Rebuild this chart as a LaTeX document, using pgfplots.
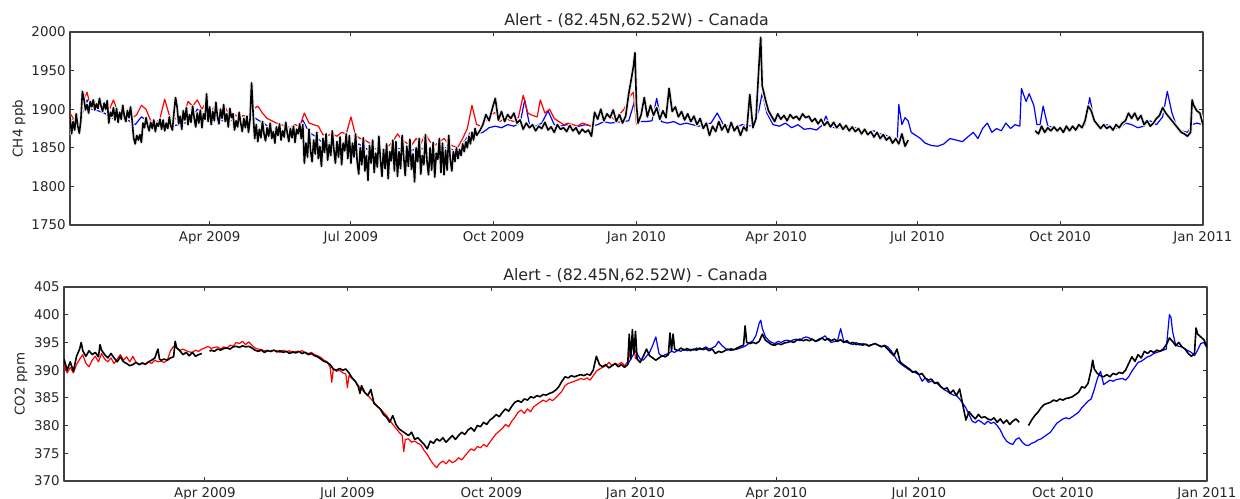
\documentclass[border=0pt]{standalone}
\usepackage{fontspec}
\setmainfont{DejaVu Sans}
\usepackage{pgfplots}
\usepackage{pgfplotstable}
\pgfplotsset{compat=1.18}
\pgfplotsset{
  panel/.style={
    scale only axis,
    anchor=south west,
    xmin=0, xmax=730,
    xtick={90,181,273,365,455,546,638,730},
    xticklabels={Apr 2009,Jul 2009,Oct 2009,Jan 2010,Apr 2010,Jul 2010,Oct 2010,Jan 2011},
    tick align=inside,
    major tick length=2pt,
    tick style={line width=0.5pt, black!80},
    axis line style={line width=0.6pt, black!75},
    ticklabel style={font=\fontsize{6.7}{8}\selectfont, text=black!85},
    xticklabel style={inner sep=0pt, yshift=-3pt},
    yticklabel style={inner sep=0pt, xshift=-2pt, /pgf/number format/fixed, /pgf/number format/1000 sep={}},
    /pgf/number format/assume math mode=true,
    every axis title shift=0pt,
    title style={font=\fontsize{7.9}{9}\selectfont, at={(0.5,1)}, anchor=base, inner sep=0pt, yshift=3pt, text=black!85},
    unbounded coords=jump,
    no markers,
    line join=round,
  }
}
\pgfplotstableread{
d v
0 1890
1 1868
2 1884
3 1873
4 1894
5 1878
6 1869
7 1886
8 1923
9 1913
10 1899
11 1906
12 1895
13 1910
14 1903
15 1912
16 1899
17 1907
18 1901
19 1914
20 1904
21 1897
22 1908
23 1900
24 1911
25 1882
26 1896
27 1891
28 1902
29 1886
30 1901
31 1883
32 1896
33 1887
34 1905
35 1891
36 1884
37 1898
38 1889
39 1903
40 1886
41 1863
42 1855
43 1866
44 1860
45 1867
46 1857
47 1882
48 1876
49 1889
50 1879
51 1872
52 1883
53 1875
54 1886
55 1871
56 1882
57 1878
58 1887
59 1874
60 1886
61 1872
62 1882
63 1875
64 1890
65 1878
66 1873
67 1896
68 1915
69 1903
70 1881
71 1891
72 1874
73 1898
74 1886
75 1902
76 1880
77 1893
78 1883
79 1904
80 1889
81 1877
82 1895
83 1882
84 1899
85 1876
86 1894
87 1887
88 1920
89 1884
90 1903
91 1880
92 1897
93 1885
94 1909
95 1890
96 1881
97 1900
98 1888
99 1906
100 1884
101 1894
102 1877
103 1901
104 1889
105 1894
106 1873
107 1885
108 1877
109 1896
110 1882
111 1871
112 1888
113 1876
114 1891
115 1870
116 1887
117 1934
118 1894
119 1862
120 1880
121 1858
122 1874
123 1863
124 1884
125 1868
126 1859
127 1876
128 1865
129 1882
130 1862
131 1871
132 1856
133 1877
134 1866
135 1881
136 1860
137 1872
138 1864
139 1883
140 1869
141 1858
142 1875
143 1863
144 1878
145 1857
146 1874
147 1868
148 1881
149 1862
150 1880
151 1830
152 1856
153 1838
154 1874
155 1846
156 1832
157 1860
158 1842
159 1870
160 1836
161 1852
162 1826
163 1862
164 1844
165 1868
166 1834
167 1854
168 1840
169 1872
170 1848
171 1830
172 1858
173 1838
174 1864
175 1828
176 1856
177 1846
178 1868
179 1836
180 1866
181 1830
182 1856
183 1838
184 1868
185 1833
186 1816
187 1850
188 1828
189 1863
190 1820
191 1840
192 1808
193 1853
194 1830
195 1860
196 1818
197 1843
198 1825
199 1865
200 1835
201 1813
202 1848
203 1823
204 1855
205 1810
206 1845
207 1833
208 1860
209 1820
210 1858
211 1813
212 1845
213 1823
214 1866
215 1838
216 1814
217 1852
218 1826
219 1861
220 1822
221 1842
222 1806
223 1850
224 1832
225 1862
226 1816
227 1840
228 1828
229 1867
230 1833
231 1815
232 1850
233 1821
234 1857
235 1812
236 1843
237 1835
238 1862
239 1818
240 1856
241 1815
242 1847
243 1821
244 1866
245 1835
246 1820
247 1845
248 1832
249 1850
250 1836
251 1848
252 1840
253 1855
254 1845
255 1858
256 1850
257 1865
258 1855
259 1870
260 1860
261 1875
262 1866
264 1872
266 1880
268 1893
270 1885
272 1900
274 1914
276 1886
278 1897
280 1884
282 1893
284 1888
286 1895
288 1882
290 1886
292 1874
294 1882
296 1876
298 1880
300 1872
302 1878
304 1875
306 1883
308 1873
310 1877
312 1870
314 1880
316 1874
318 1876
320 1871
322 1879
324 1872
326 1876
328 1868
330 1874
332 1870
334 1873
336 1865
338 1896
340 1887
342 1900
344 1885
346 1894
348 1889
350 1899
352 1884
354 1893
356 1882
358 1891
360 1920
362 1943
363 1955
364 1973
365 1905
366 1882
368 1893
370 1915
372 1890
374 1905
376 1892
378 1902
380 1887
382 1898
384 1889
386 1927
388 1897
390 1903
392 1890
394 1897
396 1886
398 1894
400 1884
402 1891
404 1880
406 1888
408 1875
410 1882
412 1866
414 1878
416 1871
418 1884
420 1873
422 1880
424 1870
426 1883
428 1872
430 1878
432 1866
434 1877
436 1872
438 1919
440 1876
442 1888
444 1960
445 1993
446 1930
448 1913
450 1898
452 1891
454 1884
456 1894
458 1887
460 1892
462 1885
464 1893
466 1888
468 1891
470 1886
472 1894
474 1889
476 1891
478 1884
480 1888
482 1881
484 1887
486 1879
488 1884
490 1877
492 1883
494 1876
496 1881
498 1874
500 1879
502 1872
504 1877
506 1871
508 1875
510 1868
512 1874
514 1867
516 1871
518 1864
520 1870
522 1862
524 1867
526 1860
528 1864
530 1856
532 1862
534 1855
536 1868
538 1852
540 1860
541 nan
622 1872
624 1868
626 1878
628 1870
630 1876
632 1872
634 1877
636 1872
638 1876
640 1870
642 1878
644 1872
646 1878
648 1873
650 1880
652 1876
654 1885
656 1904
658 1898
660 1885
662 1880
664 1875
666 1880
668 1875
670 1878
672 1873
674 1880
676 1876
678 1882
680 1885
682 1895
684 1888
686 1895
688 1886
690 1892
692 1880
694 1885
696 1878
698 1882
700 1888
702 1892
704 1902
706 1895
708 1890
710 1885
712 1880
714 1875
716 1870
718 1868
720 1865
722 1870
723 1912
724 1905
726 1898
728 1895
730 1880
}\obsch
\begin{document}
\begin{tikzpicture}
\useasboundingbox (0pt,0pt) rectangle (620pt,249pt);
% ---------------- TOP: CH4 ----------------
\begin{axis}[panel, at={(35pt,136.5pt)}, width=566.5pt, height=96.5pt,
  ymin=1750, ymax=2000, ytick={1750,1800,1850,1900,1950,2000},
  title={Alert - (82.45N,62.52W) - Canada}, ylabel={CH4 ppb},
  every axis y label/.style={font=\fontsize{6.7}{8}\selectfont, at={(axis description cs:-0.045,0.5)}, rotate=90, anchor=center, text=black!85}]
\addplot[blue, line width=0.6pt] coordinates {
(0,1890)(4,1880)(8,1895)(11,1912)(14,1900)(18,1898)(22,1895)(26,1890)(30,1885)(34,1888)
(38,1885)(42,1880)(46,1890)(50,1885)(54,1878)(58,1880)(62,1875)(66,1878)(70,1880)(74,1882)
(78,1885)(82,1900)(86,1895)(90,1888)(94,1892)(98,1885)(102,1886)(106,1885)(110,1882)(114,1880)
(118,1890)(122,1885)(126,1880)(130,1872)(134,1870)(138,1873)(142,1868)(146,1872)(150,1886)(154,1870)
(158,1865)(162,1858)(166,1856)(170,1858)(174,1855)(178,1852)(182,1848)(186,1855)(190,1850)(194,1845)
(198,1840)(202,1838)(206,1845)(210,1850)(214,1848)(218,1845)(222,1848)(226,1850)(230,1845)(234,1840)
(238,1845)(242,1850)(246,1848)(250,1843)(254,1858)(258,1870)(262,1868)(266,1870)(270,1876)(274,1878)
(278,1876)(282,1880)(286,1878)(290,1882)(293,1912)(296,1880)(300,1878)(304,1882)(308,1898)(312,1880)
(316,1878)(320,1880)(324,1876)(328,1878)(332,1880)(336,1878)(340,1880)(344,1884)(348,1882)(352,1883)
(356,1884)(360,1885)(364,1912)(367,1884)(371,1884)(375,1885)(378,1914)(381,1884)(385,1882)(389,1884)
(393,1880)(397,1882)(401,1880)(405,1878)(409,1880)(413,1882)(417,1895)(421,1880)(425,1878)(429,1876)
(433,1880)(437,1878)(441,1880)(444,1900)(446,1921)(449,1895)(453,1880)(457,1878)(461,1882)(465,1876)
(469,1880)(473,1874)(477,1875)(481,1873)(485,1880)(487,1891)(490,1878)(494,1875)(498,1878)(502,1874)
(506,1876)(510,1872)(514,1870)(518,1872)(522,1868)(526,1866)(530,1860)(533,1858)(534,1906)(536,1880)
(538,1889)(540,1885)(542,1870)(545,1866)(548,1862)(551,1856)(555,1853)(559,1852)(563,1855)(567,1862)
(571,1860)(575,1858)(579,1865)(582,1870)(585,1862)(588,1875)(591,1882)(594,1870)(597,1875)(600,1872)
(603,1882)(606,1875)(609,1880)(612,1878)(613,1927)(616,1910)(618,1920)(621,1905)(623,1880)(625,1880)
(627,1904)(630,1878)(634,1876)(638,1874)(642,1875)(646,1876)(650,1878)(654,1880)(657,1915)(660,1885)
(664,1878)(668,1880)(672,1876)(676,1875)(680,1882)(684,1880)(688,1876)(692,1878)(696,1885)(700,1880)
(704,1890)(707,1923)(710,1895)(713,1878)(716,1872)(720,1870)(723,1880)(726,1882)(730,1880)
};
\addplot[red, line width=0.6pt] coordinates {
(0,1895)(3,1885)(6,1880)(9,1912)(11,1922)(13,1905)(16,1910)(19,1902)(22,1908)(25,1898)
(28,1912)(31,1895)(34,1890)(37,1900)(40,1888)(43,1893)(46,1905)(49,1900)(52,1885)(55,1882)
(58,1888)(61,1913)(64,1892)(67,1886)(70,1892)(73,1888)(76,1910)(79,1904)(82,1912)(85,1900)
(88,1910)(91,1898)(94,1905)(97,1892)(100,1903)(103,1890)(106,1893)(109,1889)(112,1892)(115,1886)
(118,1900)(121,1904)(124,1895)(127,1888)(130,1885)(133,1882)(136,1880)(139,1878)(142,1876)(145,1880)
(148,1878)(151,1895)(154,1882)(157,1880)(160,1878)(163,1867)(166,1866)(169,1868)(172,1865)(175,1870)
(178,1868)(181,1890)(184,1866)(187,1862)(190,1860)(193,1856)(196,1850)(199,1846)(202,1843)(205,1852)
(208,1858)(211,1868)(214,1860)(217,1856)(220,1853)(223,1862)(226,1855)(229,1868)(232,1858)(235,1853)
(238,1858)(241,1862)(244,1855)(247,1852)(250,1851)(253,1862)(256,1875)(259,1905)(262,1880)(265,1878)
(268,1885)(271,1892)(274,1896)(277,1884)(280,1888)(283,1886)(286,1884)(289,1890)(292,1918)(295,1895)
(298,1892)(301,1890)(303,1912)(306,1895)(309,1900)(312,1888)(315,1884)(318,1880)(321,1882)(324,1880)
(327,1878)(330,1882)(333,1880)(336,1878)(339,1890)(342,1895)(345,1888)(348,1892)(351,1886)(354,1893)
(357,1900)(360,1915)(363,1922)(365,1880)
};
\addplot[black!7, line width=2pt] table[x=d, y=v] {\obsch};
\addplot[black, line width=0.8pt] table[x=d, y=v] {\obsch};
\end{axis}
% ---------------- BOTTOM: CO2 ----------------
\begin{axis}[panel, at={(32pt,8.5pt)}, width=571.5pt, height=97pt,
  ymin=370, ymax=405, ytick={370,375,380,385,390,395,400,405},
  title={Alert - (82.45N,62.52W) - Canada}, ylabel={CO2 ppm},
  every axis y label/.style={font=\fontsize{6.7}{8}\selectfont, at={(axis description cs:-0.0376,0.5)}, rotate=90, anchor=center, text=black!85}]
\addplot[blue, line width=0.6pt] coordinates {
(360,391)(362,392)(365,393.5)(368,392)(370,391.8)(372,392.5)(374,393.2)(376,394.5)(378,396)(380,393)
(382,392.5)(384,392.8)(386,393)(388,393.4)(390,393.2)(392,393.6)(394,393.4)(396,393.8)(398,393.5)(400,393.8)
(402,393.6)(404,394)(406,393.7)(408,393.9)(410,394.2)(412,393.8)(414,394)(416,394.3)(418,395.2)(420,394.5)
(422,394)(424,393.6)(426,393.9)(428,393.7)(430,393.8)(432,394)(434,394.2)(436,394.5)(438,395)(440,395.3)
(442,396.3)(444,398.5)(445,399)(446,397.5)(448,396)(450,395.4)(452,395)(454,394.8)(456,395.2)(458,395)
(460,395.3)(462,395.4)(464,395.2)(466,395.5)(468,395.6)(470,395.3)(472,395.8)(474,396)(476,395.8)(478,395.5)
(480,395.2)(482,395.6)(484,395.8)(486,396.2)(488,395.5)(490,395)(494,395.3)(496,397.5)(498,395.2)(500,395)
(502,394.8)(504,394.6)(506,395)(508,394.5)(510,394.8)(512,394.6)(514,394.3)(516,394.6)(518,394.8)(520,394.5)
(522,394.3)(524,394.5)(526,394.2)(528,393.6)(530,392.8)(532,391.8)(534,391.2)(536,390.8)(538,390.4)(540,390)
(542,389.8)(544,389.5)(546,389.2)(548,388)(550,388.6)(552,387.8)(554,388)(556,387.8)(558,387.5)(560,387)
(562,386.5)(564,386.2)(566,385.8)(568,385.5)(570,385.4)(572,384.8)(574,384)(576,383.2)(578,382)(580,380.8)
(582,380.5)(584,381)(586,380.6)(588,380.2)(590,380.8)(592,380.4)(594,380.6)(596,380)(598,379.2)(600,378)
(602,377.2)(604,376.8)(606,376.6)(608,377.5)(610,377.8)(612,377)(614,376.5)(616,376.4)(618,376.8)(620,377)
(622,377.4)(624,377.6)(626,378)(628,378.4)(630,378.8)(632,379.6)(634,380.4)(636,380.8)(638,381.2)(640,381.4)
(642,381.2)(644,381.6)(646,382)(648,382.4)(650,383.2)(652,383.8)(654,384.4)(656,384.8)(658,386.5)(660,388.5)
(662,389.8)(664,387.4)(666,387.8)(668,388.2)(670,388)(672,388.3)(674,388.4)(676,388.5)(678,388.2)(680,388.8)
(682,389.8)(684,390.6)(686,391.4)(688,391.6)(690,392)(692,392.4)(694,392.6)(696,393)(698,393.2)(700,393.4)
(702,393.6)(704,393.8)(705,397)(706,400)(707,399.5)(708,397)(710,394.5)(712,394.3)(714,394.2)(716,393.8)
(718,393.5)(720,393.2)(722,392.6)(724,393.6)(726,394.8)(728,395)(730,394)
};
\addplot[red, line width=0.6pt] coordinates {
(0,391)(2,389.5)(4,390.5)(6,389.5)(8,391)(10,392)(12,392.8)(14,391.2)(16,390.6)(18,391.8)
(20,392.5)(22,391.5)(24,393)(26,392)(28,391.5)(30,392.2)(32,391.2)(34,392)(36,392.8)(38,391.8)
(40,392.4)(42,391.5)(44,392.5)(46,391.4)(48,391)(50,391.2)(52,391)(54,391.5)(56,391.2)(58,391.8)
(60,391.5)(62,391.6)(64,391.4)(66,391.8)(68,393.5)(70,394.3)(72,394)(74,393.6)(76,393.8)(78,393.5)
(80,393.3)(82,393.2)(84,393.6)(86,393.4)(88,393.8)(90,394)(92,394.3)(94,393.9)(96,394.1)(98,394.2)
(100,393.8)(102,394.2)(104,393.9)(106,394.5)(108,394.3)(110,395)(112,394.8)(114,395.2)(116,394.6)(118,395.1)
(120,394.5)(122,394)(124,393.8)(126,393.7)(128,393.5)(130,393.6)(132,393.3)(134,393.6)(136,393.5)(138,393.2)
(140,393.6)(142,393.3)(144,393.5)(146,393.1)(148,393.4)(150,393.3)(152,393.5)(154,393.2)(156,393)(158,393.2)
(160,392.8)(162,392.6)(164,392.3)(166,391.8)(168,391.5)(170,390.5)(171,387.8)(172,390.2)(174,389.8)(176,390)
(178,389.5)(180,389.3)(181,386.8)(182,389)(184,388.5)(186,388)(188,387.2)(190,386.5)(192,386)(194,385.5)
(196,384.8)(198,384.2)(200,383.5)(202,383)(204,382.4)(206,381.8)(208,381)(210,380.2)(212,379.5)(214,378.8)
(216,378.2)(217,375.3)(218,377.5)(220,377.6)(222,377)(224,377.2)(226,376.8)(228,376.5)(230,375.5)(232,374.8)
(234,373.8)(236,373)(238,372.4)(240,373.2)(242,373.6)(244,373.1)(246,373.8)(248,373.3)(250,373.6)(252,374.2)
(254,373.8)(256,374.5)(258,375.2)(260,375.8)(262,375.5)(264,376.2)(266,376)(268,376.6)(270,376.2)(272,377)
(274,377.8)(276,378.5)(278,379)(280,379.5)(282,380.2)(284,379.8)(286,380.8)(288,381.5)(290,382.4)(292,382.8)
(294,382.2)(296,383)(298,382.5)(300,383.4)(302,383.8)(304,384.2)(306,384.6)(308,384.3)(310,384.8)(312,384.5)
(314,385)(316,385.6)(318,386.2)(320,387.2)(322,387.6)(324,387.8)(326,388)(328,388.2)(330,388.5)(332,388.3)
(334,388.6)(336,388.2)(338,389)(340,389.8)(342,390.2)(344,390.5)(346,390.8)(348,391.4)(350,390.8)(352,391.2)
(354,391)(356,391.4)(358,390.8)(360,391.5)(362,393.5)(364,394.3)(365,392)
};
\addplot[black, line width=0.8pt] coordinates {
(0,392)(2,390)(4,391.5)(6,389.8)(8,392.5)(10,393.8)(11,395)(12,393.5)(14,392.5)(16,393.5)
(18,392.8)(20,393.2)(22,392.4)(23,394.6)(24,393.6)(26,392.8)(28,392.2)(30,393)(32,392.2)(34,391.5)
(36,392.4)(38,391.5)(40,391.2)(42,390.8)(44,391)(46,391.4)(48,391)(50,391.3)(52,391.1)(54,391.5)
(56,391.8)(58,392.2)(60,393.8)(61,392)(62,391.8)(64,392)(66,391.8)(68,392.2)(70,392.4)(71,395.2)
(72,394)(74,393.5)(76,392.8)(78,393.2)(80,392.6)(82,393.2)(84,392.5)(86,392.8)(88,393)(90,nan)
(93,393.4)(94,393.6)(96,393.4)(98,393.8)(100,393.6)(102,393.9)(104,394)(106,393.8)(108,394.2)(110,394.3)
(112,394.1)(114,394.4)(116,394.2)(118,394.3)(120,394)(122,393.6)(124,393.4)(126,393.6)(128,393.2)(130,393.5)
(132,393.4)(134,393.6)(136,393.3)(138,393.5)(140,393.2)(142,393.4)(144,393)(146,393.3)(148,393.1)(150,393.4)
(152,393)(154,393.2)(156,392.8)(158,393)(160,392.6)(162,392.4)(164,392)(166,391.6)(168,391.4)(170,391)
(172,390.2)(174,390)(176,390.3)(178,390)(180,390.2)(182,389.5)(184,388.6)(186,388)(188,387)(189,385.8)
(190,387.2)(192,386)(194,385.4)(196,386.5)(198,384)(200,383.5)(202,383)(204,382)(206,381.5)(208,380.6)
(210,381.8)(212,380.2)(214,379.4)(216,379)(218,378.6)(220,378.2)(222,378.8)(224,377.5)(226,377.8)(228,377.2)
(230,376.6)(232,375.8)(234,377.2)(236,376.8)(238,377.6)(240,377.2)(242,377.8)(244,377)(246,377.6)(248,378.2)
(250,377.5)(252,378.2)(254,378.8)(256,378.4)(258,379.2)(260,379.6)(262,379)(264,380)(266,379.8)(268,380.6)
(270,380.2)(272,381)(274,381.4)(276,382)(278,381.6)(280,382.4)(282,383)(284,382.6)(286,383.5)(288,384.2)
(290,384.5)(292,384.2)(294,384.8)(296,384.6)(298,385.2)(300,385)(302,385.4)(304,385.2)(306,385.6)(308,385.5)
(310,385.8)(312,386)(314,386.4)(316,387)(318,388)(320,388.8)(322,388.6)(324,389)(326,388.8)(328,389)
(330,389.2)(332,389)(334,389.3)(336,389.1)(338,390)(340,392.5)(342,391)(344,390.6)(346,391)(348,390.4)
(350,390.8)(352,391.2)(354,390.6)(356,391)(358,390.5)(360,391)(361,396.5)(362,392)(363,397.3)(364,393)
(365,397)(366,392)(368,391.4)(370,392.5)(372,393.8)(374,392.6)(376,392.2)(378,391.8)(380,392.2)(382,392.6)
(384,392.4)(386,392.8)(387,396.7)(388,393.5)(389,396.5)(390,393.8)(392,393.5)(394,394)(396,393.6)(398,393.9)
(400,393.5)(402,393.8)(404,393.6)(406,394)(408,393.7)(410,393.9)(412,393.5)(414,393.8)(416,393)(418,393.4)
(420,393.2)(422,393.5)(424,393.8)(426,393.6)(428,393.7)(430,394)(432,394.3)(434,394.5)(435,398)(436,395)
(438,394.8)(440,395)(442,394.8)(444,395.2)(446,396.5)(448,395.4)(450,395)(452,394.6)(454,394.5)(456,394.8)
(458,394.6)(460,394.9)(462,395)(464,395.2)(466,395)(468,395.4)(470,395.6)(472,395.3)(474,395.5)(476,395.3)
(478,395.6)(480,395.2)(482,395.4)(484,395.8)(486,395.4)(488,395.7)(490,395.3)(492,395.6)(494,395.2)(496,395.5)
(498,395)(500,395.3)(502,394.8)(504,395)(506,394.6)(508,394.8)(510,394.5)(512,394.7)(514,394.4)(516,394.6)
(518,394.8)(520,394.5)(522,394.2)(524,394.4)(526,393.8)(528,393.2)(530,392.6)(532,393.8)(534,391.5)(536,391)
(538,390.6)(540,390.2)(542,389.6)(544,389.8)(546,389.2)(548,389.4)(550,388.6)(552,388.2)(554,388.4)(556,387.6)
(558,387.8)(560,387)(562,386.6)(564,386.8)(566,385.8)(568,386.4)(570,385.4)(572,386.6)(574,383.8)(576,381)
(578,382.5)(580,381.8)(582,381.2)(584,382)(586,381.4)(588,381.6)(590,381.2)(592,381)(594,381.4)(596,380.6)
(598,381.2)(600,380.4)(602,381)(604,380.2)(606,380.8)(608,381.2)(610,380.6)(612,nan)(616,380)(618,381)
(620,381.8)(622,382.4)(624,383.2)(626,383.8)(628,384)(630,384.2)(632,384.6)(634,384.4)(636,384.8)(638,384.6)
(640,384.9)(642,385)(644,385.2)(646,385.6)(648,386)(650,387)(652,386.8)(654,387.6)(656,390)(657,391.8)
(658,390.2)(660,389.4)(662,389)(664,388.8)(666,389.2)(668,388.8)(670,389.4)(672,389.2)(674,389.6)(676,389.4)
(678,390)(680,391.2)(682,392.4)(684,391.6)(686,392.8)(688,392.2)(690,393.4)(692,393)(694,393.5)(696,393.2)
(698,393.6)(700,393.4)(702,393.8)(704,394.6)(706,395.8)(708,395.2)(710,394.4)(712,395)(714,394.2)(716,393.8)
(718,393)(720,392.5)(722,393)(723,397.6)(724,396.5)(726,396)(728,395.5)(730,394.2)
};
\end{axis}
\end{tikzpicture}
\end{document}
